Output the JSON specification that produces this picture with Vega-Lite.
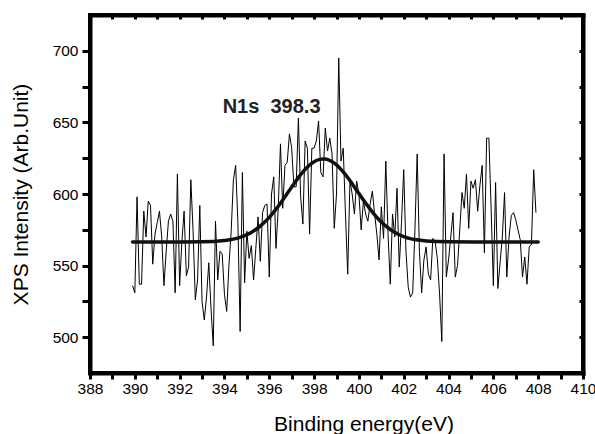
{
  "$schema": "https://vega.github.io/schema/vega-lite/v6.json",
  "width": 493,
  "height": 358,
  "autosize": {"type": "none"},
  "padding": {"left": 90, "top": 15, "right": 12, "bottom": 61},
  "background": "white",
  "config": {
    "view": {"stroke": "black", "strokeWidth": 4},
    "font": "Liberation Sans",
    "axis": {
      "domainColor": "black", "tickColor": "black", "labelColor": "black", "titleColor": "black",
      "grid": false, "domainWidth": 4, "domainCap": "square",
      "labelFontSize": 15.5, "labelFont": "Liberation Sans",
      "titleFont": "Liberation Sans", "titleFontWeight": "normal", "titleFontSize": 21
    }
  },
  "datasets": {
    "spectrum": [
      {"energy": 389.9, "intensity": 536}, {"energy": 390.0, "intensity": 531}, {"energy": 390.1, "intensity": 598},
      {"energy": 390.2, "intensity": 537}, {"energy": 390.3, "intensity": 537}, {"energy": 390.4, "intensity": 588},
      {"energy": 390.5, "intensity": 570}, {"energy": 390.6, "intensity": 595}, {"energy": 390.7, "intensity": 592},
      {"energy": 390.8, "intensity": 551}, {"energy": 390.9, "intensity": 572}, {"energy": 391.0, "intensity": 580},
      {"energy": 391.1, "intensity": 588}, {"energy": 391.2, "intensity": 570}, {"energy": 391.3, "intensity": 536},
      {"energy": 391.4, "intensity": 560}, {"energy": 391.5, "intensity": 581}, {"energy": 391.6, "intensity": 586},
      {"energy": 391.7, "intensity": 581}, {"energy": 391.8, "intensity": 531}, {"energy": 391.9, "intensity": 614},
      {"energy": 392.0, "intensity": 536}, {"energy": 392.1, "intensity": 567}, {"energy": 392.2, "intensity": 588},
      {"energy": 392.3, "intensity": 543}, {"energy": 392.4, "intensity": 549}, {"energy": 392.5, "intensity": 610},
      {"energy": 392.6, "intensity": 574}, {"energy": 392.7, "intensity": 526}, {"energy": 392.8, "intensity": 540},
      {"energy": 392.9, "intensity": 592}, {"energy": 393.0, "intensity": 525}, {"energy": 393.1, "intensity": 512},
      {"energy": 393.2, "intensity": 528}, {"energy": 393.3, "intensity": 552}, {"energy": 393.4, "intensity": 520},
      {"energy": 393.5, "intensity": 494}, {"energy": 393.6, "intensity": 581}, {"energy": 393.7, "intensity": 540},
      {"energy": 393.8, "intensity": 560}, {"energy": 393.9, "intensity": 558}, {"energy": 394.0, "intensity": 530},
      {"energy": 394.1, "intensity": 518}, {"energy": 394.2, "intensity": 550}, {"energy": 394.3, "intensity": 574},
      {"energy": 394.4, "intensity": 610}, {"energy": 394.5, "intensity": 620}, {"energy": 394.6, "intensity": 580},
      {"energy": 394.7, "intensity": 504}, {"energy": 394.8, "intensity": 615}, {"energy": 394.9, "intensity": 538},
      {"energy": 395.0, "intensity": 574}, {"energy": 395.1, "intensity": 555}, {"energy": 395.2, "intensity": 564},
      {"energy": 395.3, "intensity": 540}, {"energy": 395.4, "intensity": 562}, {"energy": 395.5, "intensity": 584},
      {"energy": 395.6, "intensity": 553}, {"energy": 395.7, "intensity": 587}, {"energy": 395.8, "intensity": 592},
      {"energy": 395.9, "intensity": 593}, {"energy": 396.0, "intensity": 542}, {"energy": 396.1, "intensity": 600},
      {"energy": 396.2, "intensity": 612}, {"energy": 396.3, "intensity": 562}, {"energy": 396.4, "intensity": 590},
      {"energy": 396.5, "intensity": 635}, {"energy": 396.6, "intensity": 590}, {"energy": 396.7, "intensity": 620},
      {"energy": 396.8, "intensity": 622}, {"energy": 396.9, "intensity": 642}, {"energy": 397.0, "intensity": 632},
      {"energy": 397.1, "intensity": 605}, {"energy": 397.2, "intensity": 605}, {"energy": 397.3, "intensity": 653},
      {"energy": 397.4, "intensity": 598}, {"energy": 397.5, "intensity": 579}, {"energy": 397.6, "intensity": 637},
      {"energy": 397.7, "intensity": 632}, {"energy": 397.8, "intensity": 572}, {"energy": 397.9, "intensity": 632},
      {"energy": 398.0, "intensity": 632}, {"energy": 398.1, "intensity": 637}, {"energy": 398.2, "intensity": 651},
      {"energy": 398.3, "intensity": 615}, {"energy": 398.4, "intensity": 612}, {"energy": 398.5, "intensity": 646},
      {"energy": 398.6, "intensity": 630}, {"energy": 398.7, "intensity": 639}, {"energy": 398.8, "intensity": 628},
      {"energy": 398.9, "intensity": 576}, {"energy": 399.0, "intensity": 600}, {"energy": 399.1, "intensity": 695},
      {"energy": 399.2, "intensity": 623}, {"energy": 399.3, "intensity": 632}, {"energy": 399.4, "intensity": 586},
      {"energy": 399.5, "intensity": 544}, {"energy": 399.6, "intensity": 609}, {"energy": 399.7, "intensity": 600},
      {"energy": 399.8, "intensity": 586}, {"energy": 399.9, "intensity": 609}, {"energy": 400.0, "intensity": 600},
      {"energy": 400.1, "intensity": 575}, {"energy": 400.2, "intensity": 595}, {"energy": 400.3, "intensity": 586},
      {"energy": 400.4, "intensity": 581}, {"energy": 400.5, "intensity": 593}, {"energy": 400.6, "intensity": 602},
      {"energy": 400.7, "intensity": 586}, {"energy": 400.8, "intensity": 572}, {"energy": 400.9, "intensity": 554},
      {"energy": 401.0, "intensity": 591}, {"energy": 401.1, "intensity": 569}, {"energy": 401.2, "intensity": 623},
      {"energy": 401.3, "intensity": 572}, {"energy": 401.4, "intensity": 537}, {"energy": 401.5, "intensity": 586},
      {"energy": 401.6, "intensity": 570}, {"energy": 401.7, "intensity": 604}, {"energy": 401.8, "intensity": 549},
      {"energy": 401.9, "intensity": 580}, {"energy": 402.0, "intensity": 617}, {"energy": 402.1, "intensity": 560},
      {"energy": 402.2, "intensity": 535}, {"energy": 402.3, "intensity": 528}, {"energy": 402.4, "intensity": 531},
      {"energy": 402.5, "intensity": 575}, {"energy": 402.6, "intensity": 628}, {"energy": 402.7, "intensity": 560},
      {"energy": 402.8, "intensity": 531}, {"energy": 402.9, "intensity": 554}, {"energy": 403.0, "intensity": 563},
      {"energy": 403.1, "intensity": 544}, {"energy": 403.2, "intensity": 540}, {"energy": 403.3, "intensity": 569},
      {"energy": 403.4, "intensity": 567}, {"energy": 403.5, "intensity": 555}, {"energy": 403.6, "intensity": 530},
      {"energy": 403.7, "intensity": 497}, {"energy": 403.8, "intensity": 628}, {"energy": 403.9, "intensity": 542},
      {"energy": 404.0, "intensity": 554}, {"energy": 404.1, "intensity": 570}, {"energy": 404.2, "intensity": 587},
      {"energy": 404.3, "intensity": 542}, {"energy": 404.4, "intensity": 550}, {"energy": 404.5, "intensity": 575},
      {"energy": 404.6, "intensity": 601}, {"energy": 404.7, "intensity": 590}, {"energy": 404.8, "intensity": 614},
      {"energy": 404.9, "intensity": 576}, {"energy": 405.0, "intensity": 609}, {"energy": 405.1, "intensity": 604},
      {"energy": 405.2, "intensity": 610}, {"energy": 405.3, "intensity": 588}, {"energy": 405.4, "intensity": 606},
      {"energy": 405.5, "intensity": 620}, {"energy": 405.6, "intensity": 559}, {"energy": 405.7, "intensity": 639},
      {"energy": 405.8, "intensity": 639}, {"energy": 405.9, "intensity": 590}, {"energy": 406.0, "intensity": 536},
      {"energy": 406.1, "intensity": 608}, {"energy": 406.2, "intensity": 534}, {"energy": 406.3, "intensity": 552},
      {"energy": 406.4, "intensity": 570}, {"energy": 406.5, "intensity": 601}, {"energy": 406.6, "intensity": 542},
      {"energy": 406.7, "intensity": 570}, {"energy": 406.8, "intensity": 585}, {"energy": 406.9, "intensity": 587},
      {"energy": 407.0, "intensity": 582}, {"energy": 407.1, "intensity": 575}, {"energy": 407.2, "intensity": 568},
      {"energy": 407.3, "intensity": 542}, {"energy": 407.4, "intensity": 556}, {"energy": 407.5, "intensity": 537},
      {"energy": 407.6, "intensity": 563}, {"energy": 407.7, "intensity": 565}, {"energy": 407.8, "intensity": 617},
      {"energy": 407.9, "intensity": 587}
    ],
    "fit": [
      {"energy": 389.9, "intensity": 566.5}, {"energy": 392.0, "intensity": 566.5}, {"energy": 393.0, "intensity": 566.6},
      {"energy": 394.0, "intensity": 567.5}, {"energy": 394.25, "intensity": 568.0}, {"energy": 394.5, "intensity": 568.8},
      {"energy": 394.75, "intensity": 570.0}, {"energy": 395.0, "intensity": 571.6}, {"energy": 395.25, "intensity": 573.7},
      {"energy": 395.5, "intensity": 576.3}, {"energy": 395.75, "intensity": 579.7}, {"energy": 396.0, "intensity": 583.7},
      {"energy": 396.25, "intensity": 588.4}, {"energy": 396.5, "intensity": 593.6}, {"energy": 396.75, "intensity": 599.2},
      {"energy": 397.0, "intensity": 604.9}, {"energy": 397.25, "intensity": 610.4}, {"energy": 397.5, "intensity": 615.4},
      {"energy": 397.75, "intensity": 619.6}, {"energy": 398.0, "intensity": 622.6}, {"energy": 398.25, "intensity": 624.2},
      {"energy": 398.4, "intensity": 624.5}, {"energy": 398.5, "intensity": 624.4}, {"energy": 398.75, "intensity": 623.0},
      {"energy": 399.0, "intensity": 620.3}, {"energy": 399.25, "intensity": 616.3}, {"energy": 399.5, "intensity": 611.5},
      {"energy": 399.75, "intensity": 606.0}, {"energy": 400.0, "intensity": 600.3}, {"energy": 400.25, "intensity": 594.7},
      {"energy": 400.5, "intensity": 589.4}, {"energy": 400.75, "intensity": 584.6}, {"energy": 401.0, "intensity": 580.4},
      {"energy": 401.25, "intensity": 577.0}, {"energy": 401.5, "intensity": 574.1}, {"energy": 401.75, "intensity": 571.9},
      {"energy": 402.0, "intensity": 570.3}, {"energy": 402.25, "intensity": 569.0}, {"energy": 402.5, "intensity": 568.2},
      {"energy": 403.0, "intensity": 567.2}, {"energy": 404.0, "intensity": 566.6}, {"energy": 406.0, "intensity": 566.5},
      {"energy": 408.0, "intensity": 566.5}
    ]
  },
  "layer": [
    {
      "data": {"name": "spectrum"},
      "mark": {"type": "line", "color": "black", "strokeWidth": 1, "clip": true},
      "encoding": {
        "x": {
          "field": "energy", "type": "quantitative",
          "scale": {"domain": [388, 410], "nice": false, "zero": false},
          "axis": {
            "orient": "bottom",
            "values": [388,389,390,391,392,393,394,395,396,397,398,399,400,401,402,403,404,405,406,407,408,409,410],
            "labelExpr": "datum.value % 2 === 0 ? datum.label : ''",
            "format": "d",
            "domainWidth": 4, "domainColor": "black",
            "tickSize": 6, "tickWidth": 3, "labelPadding": 2,
            "labelFlush": false, "labelOverlap": false,
            "title": "Binding energy(eV)",
            "titleX": 273.5, "titleY": 57, "titleBaseline": "alphabetic", "titleAlign": "center", "titleAnchor": "start"
          }
        },
        "y": {
          "field": "intensity", "type": "quantitative",
          "scale": {"domain": [475, 725], "nice": false, "zero": false},
          "axis": {
            "orient": "left",
            "values": [500,525,550,575,600,625,650,675,700],
            "labelExpr": "datum.value % 50 === 0 ? datum.label : ''",
            "format": "d",
            "domainWidth": 4, "domainColor": "black",
            "tickSize": 8, "tickWidth": 3, "labelPadding": 4,
            "labelFlush": false, "labelOverlap": false,
            "title": "XPS Intensity (Arb.Unit)",
            "titleAngle": -90, "titleX": -69, "titleY": 179,
            "titleAlign": "center", "titleBaseline": "middle", "titleAnchor": "start"
          }
        }
      }
    },
    {
      "data": {"name": "fit"},
      "mark": {"type": "line", "color": "#111111", "strokeWidth": 3.5, "interpolate": "monotone", "strokeCap": "round"},
      "encoding": {
        "x": {
          "field": "energy", "type": "quantitative",
          "axis": {
            "orient": "top",
            "values": [388,389,390,391,392,393,394,395,396,397,398,399,400,401,402,403,404,405,406,407,408,409,410],
            "domainWidth": 4, "domainColor": "black",
            "labels": false, "tickSize": -4, "tickWidth": 3, "title": null
          }
        },
        "y": {
          "field": "intensity", "type": "quantitative",
          "axis": {
            "orient": "right",
            "values": [500,525,550,575,600,625,650,675,700],
            "domainWidth": 4, "domainColor": "black",
            "labels": false, "tickSize": -4, "tickWidth": 3, "title": null
          }
        }
      }
    },
    {
      "data": {"values": [{"label": "N1s\u00a0\u00a0398.3"}]},
      "mark": {"type": "text", "align": "left", "baseline": "alphabetic", "fontSize": 20, "fontWeight": "bold", "font": "Liberation Sans", "color": "#222222"},
      "encoding": {
        "x": {"datum": 393.92, "type": "quantitative", "axis": null},
        "y": {"datum": 656.8, "type": "quantitative", "axis": null},
        "text": {"field": "label"}
      }
    }
  ],
  "resolve": {"axis": {"x": "independent", "y": "independent"}}
}
